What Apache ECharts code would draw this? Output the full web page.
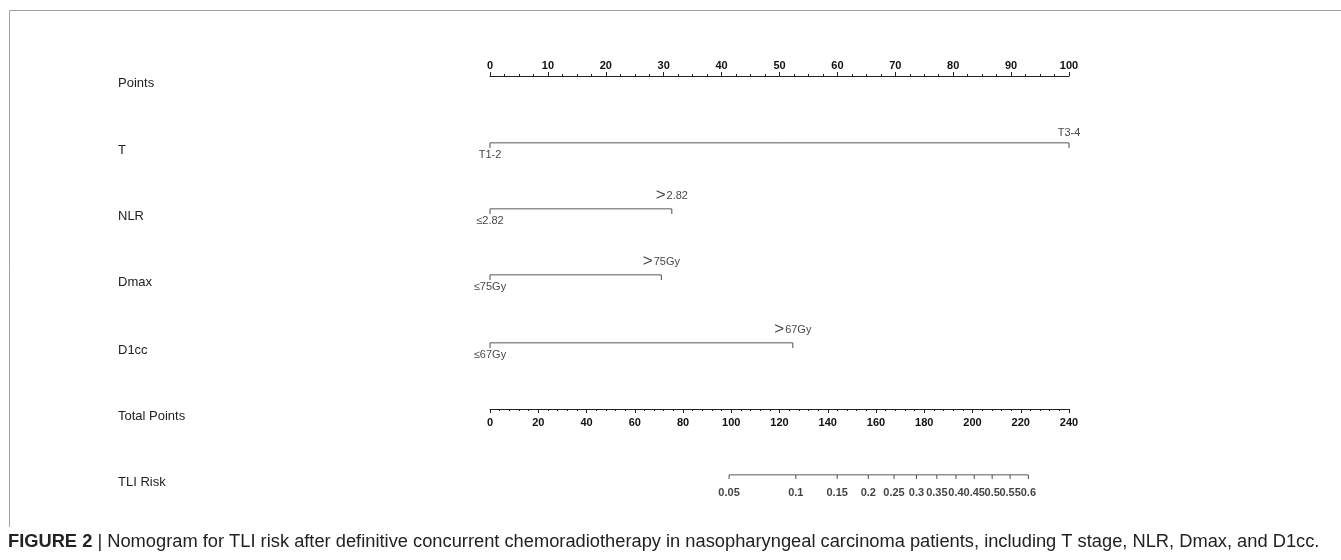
<!DOCTYPE html>
<html>
<head>
<meta charset="utf-8">
<script src="https://cdn.jsdelivr.net/npm/echarts@6/dist/echarts.min.js"></script>
<style>
  html, body { margin: 0; padding: 0; background: #fff; }
  #chart { width: 1341px; height: 560px; }
</style>
</head>
<body>
<div id="chart"></div>
<script>
// nomogram data
const rowNames = ['Points', 'T', 'NLR', 'Dmax', 'D1cc', 'Total Points', 'TLI Risk']
const varPoints = [100, 31.4, 29.6, 52.3]          // points of the upper level (lower level = 0)
const lowLabels = ['T1-2', '≤2.82', '≤75Gy', '≤67Gy']
const highLabels = ['T3-4', '2.82', '75Gy', '67Gy'] // drawn with a ">" in front, except T3-4
const riskTicks = [0.05, 0.1, 0.15, 0.2, 0.25, 0.3, 0.35, 0.4, 0.45, 0.5, 0.55, 0.6]
// logit(risk) = riskA + riskB * totalPoints
const riskA = -5.62
const riskB = 0.027

const axisLeft = 490
const axisWidth = 579
const rowY = [76, 143, 209, 275, 343, 409, 475]
const ink = '#222'
const numFont = "'Liberation Sans Narrow', 'Liberation Sans', Arial, sans-serif"
const textFont = "'Liberation Sans', Arial, sans-serif"

const riskToPoints = r => (Math.log(r / (1 - r)) - riskA) / riskB

const chart = echarts.init(document.getElementById('chart'))

const grids = []
const xAxes = []
const yAxes = []
const series = []

function addGrid(y, xMax, axisOpt) {
  const i = grids.length
  grids.push({ left: axisLeft, width: axisWidth, top: y - 10, height: 10 })
  xAxes.push(Object.assign({
    gridIndex: i, type: 'value', min: 0, max: xMax, show: false,
  }, axisOpt || {}))
  yAxes.push({ gridIndex: i, type: 'value', min: 0, max: 1, show: false })
  return i
}

// Points axis (labels on top)
addGrid(rowY[0] + 10, 100, {
  show: true, position: 'top', interval: 10,
  axisLine: { show: true, onZero: false, lineStyle: { color: ink, width: 1 } },
  axisTick: { show: true, inside: false, length: 4, lineStyle: { color: ink } },
  minorTick: { show: true, splitNumber: 4, length: 2, lineStyle: { color: ink } },
  axisLabel: { margin: 5, color: '#111', fontSize: 11, fontWeight: 'bold', fontFamily: numFont },
  splitLine: { show: false },
})

// variable rows
varPoints.forEach((pts, k) => {
  const g = addGrid(rowY[k + 1], 100)
  series.push({
    type: 'line', xAxisIndex: g, yAxisIndex: g, silent: true, symbol: 'none',
    lineStyle: { color: ink, width: 1 },
    data: [[0, 0], [pts, 0]],
  })
  series.push({
    type: 'scatter', xAxisIndex: g, yAxisIndex: g, silent: true,
    symbol: 'rect', symbolSize: [1, 5], symbolOffset: [0, 2.5],
    itemStyle: { color: ink },
    data: [[0, 0], [pts, 0]],
  })
  const high = k === 0 ? highLabels[k] : '{g|>}' + highLabels[k]
  series.push({
    type: 'scatter', xAxisIndex: g, yAxisIndex: g, silent: true, symbolSize: 0,
    data: [
      { value: [0, 0], label: { show: true, position: 'bottom', distance: 6, formatter: lowLabels[k] } },
      { value: [pts, 0], label: { show: true, position: 'top', distance: 5, formatter: high } },
    ],
    label: {
      color: '#111', fontSize: 11, fontFamily: textFont,
      rich: { g: { fontSize: 17, color: '#111', fontFamily: textFont, padding: [0, 1, 0, 0] } },
    },
  })
})

// Total Points axis (labels below)
addGrid(rowY[5], 240, {
  show: true, position: 'bottom', interval: 20,
  axisLine: { show: true, onZero: false, lineStyle: { color: ink, width: 1 } },
  axisTick: { show: true, inside: false, length: 4, lineStyle: { color: ink } },
  minorTick: { show: true, splitNumber: 5, length: 2, lineStyle: { color: ink } },
  axisLabel: { margin: 8, color: '#111', fontSize: 11, fontWeight: 'bold', fontFamily: numFont },
  splitLine: { show: false },
})

// TLI Risk axis, placed on the total-points scale
const rg = addGrid(rowY[6], 240)
const riskPts = riskTicks.map(riskToPoints)
series.push({
  type: 'line', xAxisIndex: rg, yAxisIndex: rg, silent: true, symbol: 'none',
  lineStyle: { color: ink, width: 1 },
  data: [[riskPts[0], 0], [riskPts[riskPts.length - 1], 0]],
})
series.push({
  type: 'scatter', xAxisIndex: rg, yAxisIndex: rg, silent: true,
  symbol: 'rect', symbolSize: [1, 4], symbolOffset: [0, 2],
  itemStyle: { color: ink },
  data: riskPts.map((p, i) => ({ value: [p, 0], name: String(riskTicks[i]) })),
  label: {
    show: true, position: 'bottom', distance: 8, formatter: p => p.name,
    color: '#111', fontSize: 11, fontWeight: 'bold', fontFamily: numFont,
  },
})

const graphic = [
  {
    type: 'polyline', silent: true,
    shape: { points: [[9.5, 527], [9.5, 10.5], [1341, 10.5]] },
    style: { stroke: '#a0a0a0', lineWidth: 1, fill: null },
  },
  {
    type: 'text', left: 8, top: 533, silent: true,
    style: {
      text: '{b|FIGURE 2} | Nomogram for TLI risk after definitive concurrent chemoradiotherapy in nasopharyngeal carcinoma patients, including T stage, NLR, Dmax, and D1cc.',
      fill: '#222', fontSize: 18.3, fontFamily: textFont,
      rich: { b: { fontWeight: 'bold', fontSize: 18.3, fill: '#222', fontFamily: textFont } },
    },
  },
]
rowNames.forEach((name, i) => {
  graphic.push({
    type: 'text', left: 118, top: rowY[i] + 1, silent: true,
    style: { text: name, fill: '#222', fontSize: 13, fontFamily: textFont },
  })
})

chart.setOption({
  animation: false,
  grid: grids,
  xAxis: xAxes,
  yAxis: yAxes,
  series: series,
  graphic: graphic,
})
</script>
</body>
</html>
